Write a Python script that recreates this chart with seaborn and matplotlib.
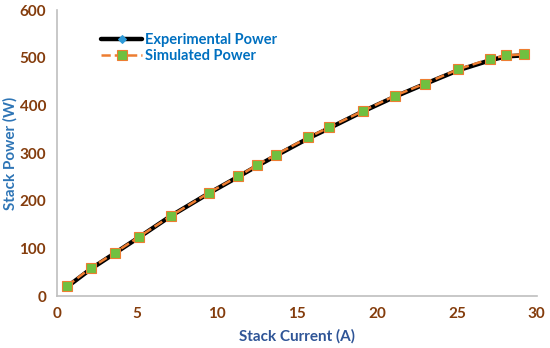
import matplotlib
matplotlib.use("Agg")
import matplotlib.pyplot as plt
import pandas as pd
import seaborn as sns

# data
current = [0.6, 2.1, 3.6, 5.1, 7.1, 9.5, 11.3, 12.5, 13.7, 15.7, 17.0, 19.1, 21.1, 23.0, 25.1, 27.1, 28.1, 29.2]
exp_power = [19, 57, 90, 123, 168, 216, 250, 273, 295, 331, 352, 387, 418, 445, 474, 495, 503, 505]
sim_power = [21, 59, 91, 124, 168, 217, 251, 275, 297, 333, 354, 388, 420, 446, 476, 498, 505, 507]

df = pd.DataFrame({"current": current, "exp": exp_power, "sim": sim_power})

sns.set_style("white")
plt.rcParams['font.family'] = ['Lato', 'DejaVu Sans']

fig = plt.figure(figsize=(5.5, 3.48), dpi=100)
ax = fig.add_axes([0.104, 0.149, 0.872, 0.822])

sns.lineplot(data=df, x="current", y="exp", ax=ax, color="black", linewidth=3.2,
             marker="D", markersize=4, markerfacecolor="#2E9AD8", markeredgecolor="#2E9AD8",
             label="Experimental Power")
sns.lineplot(data=df, x="current", y="sim", ax=ax, color="#ED7D31", linewidth=1.8,
             linestyle="--", dashes=(3, 2), marker="s", markersize=7,
             markerfacecolor="#70C040", markeredgecolor="#ED7D31", markeredgewidth=0.8,
             label="Simulated Power")

ax.set_xlim(0, 30)
ax.set_ylim(0, 600)
ax.set_xticks([0, 5, 10, 15, 20, 25, 30])
ax.set_yticks([0, 100, 200, 300, 400, 500, 600])

brown = "#843C0C"
ax.tick_params(axis="both", colors=brown, labelsize=11, length=0, pad=8)
for t in ax.get_xticklabels() + ax.get_yticklabels():
    t.set_fontweight("bold")

ax.set_xlabel("Stack Current (A)", color="#2F5597", fontsize=11, fontweight="bold", labelpad=6)
ax.set_ylabel("Stack Power (W)", color="#2E75B6", fontsize=11, fontweight="bold", labelpad=1)

sns.despine(ax=ax)
for s in ["left", "bottom"]:
    ax.spines[s].set_color("#BFBFBF")
    ax.spines[s].set_linewidth(1.2)

leg = ax.legend(loc="upper left", bbox_to_anchor=(0.065, 0.965), frameon=False,
                handlelength=2.8, handletextpad=0.2, labelspacing=0.1,
                prop={"weight": "bold", "size": 10.5})
for t in leg.get_texts():
    t.set_color("#0070C0")

fig.savefig("out.png", dpi=100)
